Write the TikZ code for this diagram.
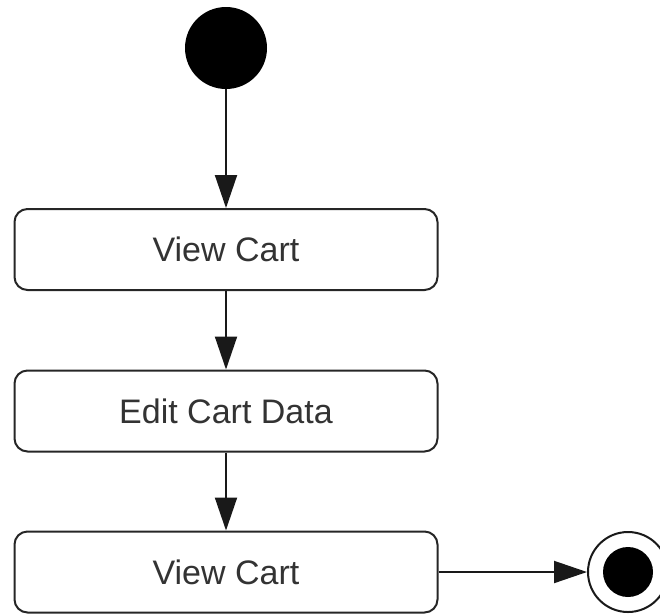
\documentclass[tikz,border=0pt]{standalone}
\usepackage{fontspec}
\setmainfont{Liberation Sans}
\usetikzlibrary{arrows.meta}
\begin{document}
\begin{tikzpicture}[x=1pt,y=-1pt,
  actbox/.style={draw=black!85,line width=2pt,rounded corners=13pt,minimum width=423pt,minimum height=81pt,inner sep=0pt,text=black!80,font=\fontsize{34}{40}\selectfont},
  flow/.style={draw=black!90,line width=2pt,-{Triangle[length=33pt,width=22pt]}}]
\useasboundingbox (0,0) rectangle (660,614);
\node[circle,fill=black,minimum size=82pt,inner sep=0pt] (start) at (226,48) {};
\node[actbox] (v1) at (226,249.5) {View Cart};
\node[actbox] (ed) at (226,411) {Edit Cart Data};
\node[actbox] (v2) at (226,572) {View Cart};
\node[circle,draw=black!90,line width=2pt,minimum size=80pt,inner sep=0pt] (end) at (628,572) {};
\node[circle,fill=black,minimum size=50pt,inner sep=0pt] (endin) at (end.center) {};
\draw[flow] (start.south) -- (v1.north);
\draw[flow] (v1.south) -- (ed.north);
\draw[flow] (ed.south) -- (v2.north);
\draw[flow] (v2.east) -- (end.west);
\end{tikzpicture}
\end{document}
